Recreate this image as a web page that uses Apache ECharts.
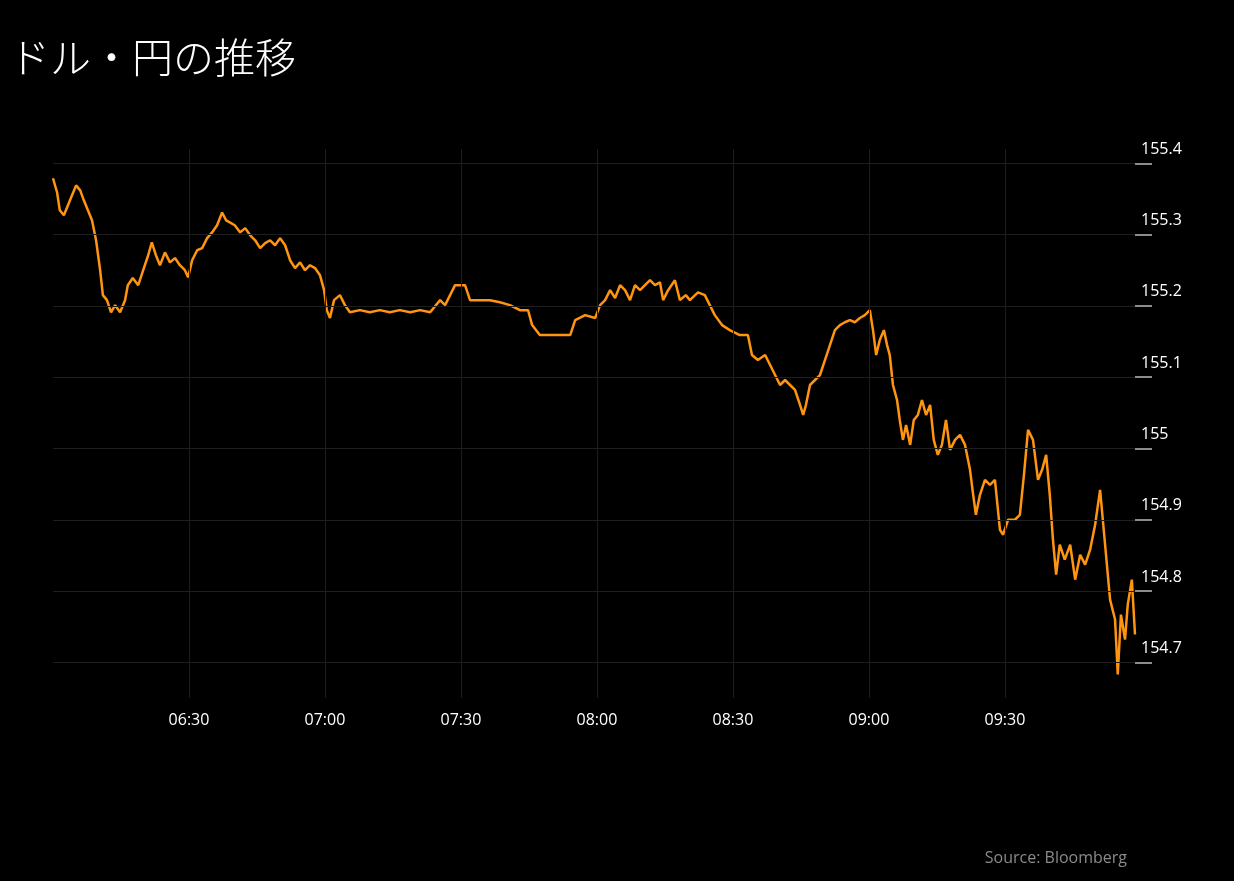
<!DOCTYPE html>
<html><head><meta charset="utf-8">
<script src="https://cdn.jsdelivr.net/npm/echarts@6/dist/echarts.min.js"></script>
<style>html,body{margin:0;padding:0;background:#000;}#c{width:1234px;height:881px;}</style>
</head><body><div id="c"></div>
<script>
// minutes since 06:00
const times = [0,0.9,1.5,2.4,3.3,4.2,5.1,6.0,6.8,7.7,8.6,9.5,10.4,11.0,11.9,12.8,13.7,14.8,15.9,16.5,17.6,18.8,19.9,21.0,21.8,22.7,23.6,24.7,25.8,26.9,28.0,29.1,29.8,30.7,31.8,32.9,34.0,35.1,36.2,37.3,38.2,39.0,40.1,41.3,42.4,43.5,44.6,45.7,46.8,47.9,49.0,50.1,51.2,52.3,53.4,54.5,55.6,56.7,57.8,58.9,59.8,60.4,61.1,62.0,63.3,64.4,65.5,67.7,69.9,72.1,74.3,76.5,78.8,81.0,83.2,85.4,86.5,87.6,88.7,90.9,92.0,94.2,96.4,98.6,100.8,103.0,104.8,105.7,107.4,110.7,114.1,115.2,117.4,119.6,120.7,121.8,122.9,124.0,125.1,126.2,127.3,128.4,129.5,130.6,131.7,132.8,133.9,134.6,135.7,137.2,138.3,139.6,140.5,142.3,143.8,144.9,146.0,147.6,149.3,151.5,153.3,154.2,155.5,157.1,158.2,159.3,160.4,161.5,162.6,163.7,164.8,165.5,166.1,167.0,168.1,169.2,170.3,171.4,172.5,173.6,174.7,175.8,176.9,178.0,179.1,180.2,180.9,181.6,182.4,183.3,184.0,184.6,185.3,186.2,186.8,187.5,188.2,189.1,189.9,190.8,191.7,192.6,193.5,194.3,195.2,196.1,197.0,197.9,199.0,200.1,201.2,202.3,203.0,203.6,204.5,205.6,206.7,207.8,208.9,209.6,210.7,212.2,213.3,214.2,215.1,216.2,217.3,218.2,219.1,219.9,220.6,221.3,222.1,223.2,224.4,225.5,226.6,227.7,228.8,229.9,231.0,231.6,232.3,233.2,234.3,234.9,235.6,236.5,237.1,238.0,238.7];
const values = [155.379,155.359,155.334,155.327,155.341,155.355,155.369,155.362,155.348,155.334,155.320,155.292,155.250,155.215,155.208,155.191,155.201,155.191,155.208,155.229,155.239,155.229,155.250,155.271,155.289,155.271,155.257,155.275,155.261,155.267,155.257,155.250,155.240,155.264,155.278,155.281,155.295,155.303,155.313,155.331,155.320,155.317,155.313,155.303,155.309,155.299,155.292,155.281,155.288,155.292,155.285,155.295,155.285,155.264,155.253,155.261,155.250,155.257,155.253,155.243,155.222,155.194,155.183,155.208,155.215,155.201,155.191,155.194,155.191,155.194,155.191,155.194,155.191,155.194,155.191,155.208,155.201,155.215,155.229,155.229,155.208,155.208,155.208,155.205,155.201,155.194,155.194,155.173,155.159,155.159,155.159,155.180,155.187,155.183,155.201,155.208,155.222,155.211,155.229,155.222,155.208,155.229,155.222,155.229,155.236,155.229,155.233,155.208,155.222,155.236,155.208,155.215,155.208,155.219,155.215,155.201,155.187,155.173,155.166,155.159,155.159,155.131,155.124,155.131,155.117,155.103,155.089,155.096,155.089,155.082,155.061,155.047,155.061,155.089,155.096,155.103,155.124,155.145,155.166,155.173,155.177,155.180,155.177,155.183,155.187,155.194,155.166,155.131,155.152,155.166,155.145,155.131,155.089,155.068,155.040,155.012,155.033,155.005,155.040,155.047,155.068,155.047,155.061,155.012,154.991,155.005,155.040,154.998,155.012,155.019,155.005,154.970,154.935,154.907,154.935,154.956,154.949,154.956,154.886,154.879,154.900,154.900,154.907,154.963,155.026,155.012,154.956,154.970,154.991,154.935,154.872,154.823,154.865,154.844,154.865,154.816,154.851,154.837,154.858,154.893,154.942,154.900,154.851,154.788,154.760,154.683,154.767,154.732,154.781,154.816,154.739];
const yTicks = [154.7,154.8,154.9,155,155.1,155.2,155.3,155.4];
const xTicks = [30,60,90,120,150,180,210];
const xTickLabels = ['06:30','07:00','07:30','08:00','08:30','09:00','09:30'];
const title = 'ドル・円の推移';
const source = 'Source: Bloomberg';

const data = times.map((t,i)=>[t,values[i]]);
const grid = '#1e1e1e';
const chart = echarts.init(document.getElementById('c'));
chart.setOption({
  backgroundColor:'#000',
  animation:false,
  title:[{text:title,left:4,top:32,textStyle:{color:'#fff',fontSize:41,fontWeight:300,fontFamily:'Noto Sans CJK JP'}},
         {text:source,right:102,top:845,textStyle:{color:'#8a8a8a',fontSize:16,fontWeight:'normal',fontFamily:'Open Sans'}}],
  grid:{left:53,right:99,top:149,bottom:183},
  xAxis:{type:'value',min:0,max:238.7,
    axisLine:{show:false},axisTick:{show:false},splitLine:{show:false},
    axisLabel:{customValues:xTicks,color:'#fff',fontSize:16,fontFamily:'Open Sans',margin:14,
      formatter:v=>{const i=xTicks.indexOf(Math.round(v));return i>=0?xTickLabels[i]:'';}}},
  yAxis:{type:'value',position:'right',min:154.65,max:155.42,
    axisLine:{show:false,onZero:false},splitLine:{show:false},
    axisTick:{show:true,inside:false,customValues:yTicks,length:17,lineStyle:{color:'#bbb',width:1.5}},
    axisLabel:{customValues:yTicks,color:'#fff',fontSize:16,fontFamily:'Open Sans',margin:6,
      verticalAlign:'bottom',padding:[0,0,6,0],formatter:v=>String(+v.toFixed(1))}},
  series:[{type:'line',data:data,showSymbol:false,
    lineStyle:{color:'#ff9410',width:2.5},
    markLine:{silent:true,symbol:'none',label:{show:false},
      lineStyle:{color:grid,type:'solid',width:1},
      data:yTicks.map(v=>({yAxis:v})).concat(xTicks.map(v=>({xAxis:v})))}}]
});
</script></body></html>
